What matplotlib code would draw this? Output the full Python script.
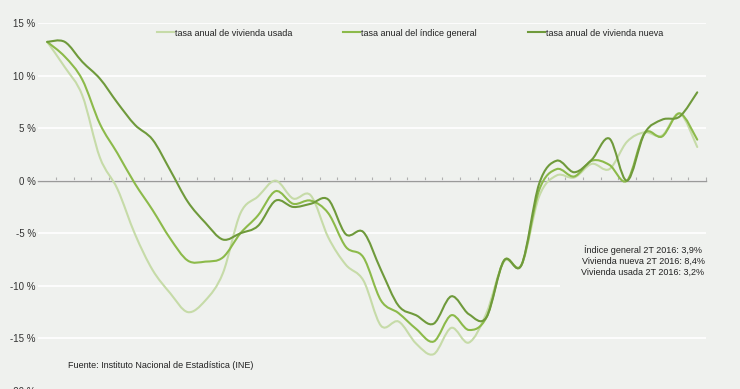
import matplotlib
matplotlib.use("Agg")
import matplotlib.pyplot as plt
import numpy as np
from matplotlib.lines import Line2D
from matplotlib.patches import PathPatch, Rectangle
from matplotlib.path import Path

# quarterly annual rates, 1T 2007 .. 2T 2016 (38 quarters)
usada = [13.2, 10.8, 8.1, 2.2, -0.8, -5.1, -8.5, -10.7, -12.5, -11.4,
         -8.8, -3.1, -1.5, 0.0, -1.7, -1.4, -5.4, -8.0, -9.5, -13.8,
         -13.4, -15.5, -16.5, -14.0, -15.4, -12.6, -7.7, -8.0, -1.5, 0.5,
         0.3, 1.6, 1.1, 3.7, 4.6, 4.3, 6.4, 3.2]
general = [13.2, 11.8, 9.6, 5.4, 2.6, -0.3, -2.8, -5.5, -7.6, -7.7,
           -7.3, -5.0, -3.3, -1.0, -2.2, -1.9, -3.1, -6.3, -7.3, -11.4,
           -12.6, -14.1, -15.3, -12.8, -14.2, -13.0, -7.6, -8.0, -0.9, 1.1,
           0.4, 1.9, 1.5, 0.0, 4.5, 4.2, 6.4, 3.9]
nueva = [13.2, 13.2, 11.3, 9.7, 7.4, 5.3, 3.9, 1.0, -2.0, -4.0,
         -5.6, -5.0, -4.3, -1.9, -2.5, -2.2, -1.8, -5.1, -4.9, -8.5,
         -11.9, -12.8, -13.6, -11.0, -12.7, -13.0, -7.6, -8.0, -0.3, 1.9,
         0.8, 2.0, 4.0, 0.0, 4.5, 5.8, 6.1, 8.4]

series_labels = ["tasa anual de vivienda usada",
                 "tasa anual del índice general",
                 "tasa anual de vivienda nueva"]
colors = ["#c6dba8", "#8cba4a", "#6f9a3b"]
y_ticks = [15, 10, 5, 0, -5, -10, -15, -20]
y_tick_labels = ["15 %", "10 %", "5 %", "0 %", "-5 %", "-10 %", "-15 %", "-20 %"]
note_lines = ["Índice general 2T 2016: 3,9%",
              "Vivienda nueva 2T 2016: 8,4%",
              "Vivienda usada 2T 2016: 3,2%"]
source = "Fuente: Instituto Nacional de Estadística (INE)"

BG = "#eff1ee"
plt.rcParams["font.family"] = ["Liberation Sans", "DejaVu Sans"]
plt.rcParams["font.size"] = 6.5


def smooth_path(xs, ys):
    # Catmull-Rom segments as cubic Bezier curves (like a "smoothed line" chart)
    p = np.column_stack([xs, ys]).astype(float)
    ext = np.vstack([p[0], p, p[-1]])
    verts = [p[0]]
    codes = [Path.MOVETO]
    for i in range(len(p) - 1):
        p0, p1, p2, p3 = ext[i], ext[i + 1], ext[i + 2], ext[i + 3]
        verts += [p1 + (p2 - p0) / 6, p2 - (p3 - p1) / 6, p2]
        codes += [Path.CURVE4] * 3
    return Path(verts, codes)


fig = plt.figure(figsize=(7.4, 3.89), dpi=100)
fig.patch.set_facecolor(BG)
ax = fig.add_axes([0.0519, -0.005, 0.9022, 0.946])
ax.set_facecolor(BG)

x = np.arange(len(nueva))
for vals, col in zip([usada, general, nueva], colors):
    ax.add_patch(PathPatch(smooth_path(x, vals), fill=False, edgecolor=col,
                           lw=1.5, zorder=3, capstyle="round"))

ax.set_xlim(-0.5, len(x) - 0.5)
ax.set_ylim(-20, 15)
ax.set_yticks(y_ticks)
ax.set_yticklabels(y_tick_labels, color="#333333", fontsize=7)
ax.tick_params(axis="y", length=0, pad=2)
ax.set_axisbelow(True)
ax.grid(axis="y", color="white", lw=1.2)

for side in ["top", "right", "left"]:
    ax.spines[side].set_visible(False)
ax.spines["bottom"].set_position(("data", 0))
ax.spines["bottom"].set_color("#9a9a9a")
ax.spines["bottom"].set_linewidth(1.0)
ax.set_xticks(np.arange(0.5, len(x), 1.0))
ax.tick_params(axis="x", direction="in", length=3, color="#b0b0b0",
               labelbottom=False)

# plain box behind the note hides the gridline there
ax.add_patch(Rectangle((29.2, -14), 9, 8, facecolor=BG, edgecolor="none",
                       zorder=1))
fig.text(643 / 740, 1 - 261 / 389, "\n".join(note_lines), ha="center",
         va="center", multialignment="center", linespacing=1.3,
         color="#222222")

handles = [Line2D([], [], color=c, lw=1.5) for c in colors]
ax.legend(handles, series_labels, loc="center left", ncol=3, frameon=False,
          bbox_to_anchor=(157 / 740, 1 - 33 / 389), bbox_transform=fig.transFigure,
          handlelength=1.85, handletextpad=0.1, columnspacing=5.7,
          borderaxespad=0, borderpad=0, labelcolor="#222222")

fig.text(68 / 740, 1 - 366 / 389, source, ha="left", va="center",
         color="#222222")

fig.savefig("out.png", dpi=100, facecolor=BG)
